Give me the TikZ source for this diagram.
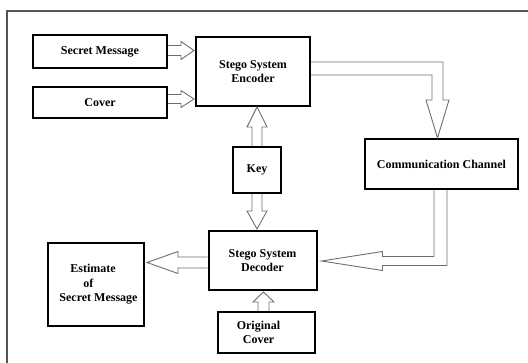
\documentclass[tikz,border=0pt]{standalone}
\usepackage{fontspec}
\setmainfont{Liberation Serif}
\usetikzlibrary{calc}
\definecolor{arrgray}{HTML}{6E6E6E}
\definecolor{frgray}{HTML}{555555}
\tikzset{
  blk/.style={draw=black, line width=2pt, fill=white, inner sep=0pt, align=center,
    font=\bfseries\fontsize{12}{14.5}\selectfont},
  arrowline/.style={draw=arrgray, line width=0.9pt, line join=miter},
  frame/.style={draw=frgray, line width=1.2pt}
}
% straight block arrow from #1 to #2: shaft half width #3, head half width #4, head length #5
\newcommand{\blockarr}[5]{%
  \coordinate (bac) at ($(#2)!#5!(#1)$);
  \draw[arrowline] ($(#1)!#3!90:(#2)$) -- ($(bac)!#3!90:(#2)$) -- ($(bac)!#4!90:(#2)$)
    -- (#2) -- ($(bac)!#4!-90:(#2)$) -- ($(bac)!#3!-90:(#2)$) -- ($(#1)!#3!-90:(#2)$);
}
\begin{document}
\begin{tikzpicture}[x=1pt,y=-1pt]
\useasboundingbox (0,0) rectangle (528,363);
\coordinate (frTR) at (528,11);
\coordinate (frTL) at (7,11);
\coordinate (frBL) at (7,363);
\draw[frame] (frTR) -- (frTL) -- (frBL);

\node[blk, minimum width=134pt, minimum height=33pt] (sm) at (100,51.5) {Secret Message};
\node[blk, minimum width=134pt, minimum height=31pt] (cov) at (100,102.5) {Cover};
\node[blk, minimum width=114pt, minimum height=69pt] (enc) at (253,71.5) {Stego System\\Encoder};
\node[blk, minimum width=48pt, minimum height=46pt] (key) at (257,170) {Key};
\node[blk, minimum width=153pt, minimum height=50pt] (comm) at (441.5,164) {Communication Channel};
\node[blk, minimum width=108pt, minimum height=59pt] (dec) at (262.5,260.5) {Stego System\\Decoder};
\node[blk, minimum width=96pt, minimum height=83pt, align=left] (est) at (96,284.5)
  {\hspace*{16pt}Estimate\\\hspace*{29pt}of\\\hspace*{5pt}Secret Message};
\node[blk, minimum width=97pt, minimum height=41pt] (orig) at (266.5,332.5)
  {Original\hspace*{16pt}\\Cover\hspace*{16pt}};

% inputs to encoder
\coordinate (a1s) at ($(sm.east)+(0,-1)$);
\coordinate (a1e) at ($(enc.west |- a1s)+(-1,0)$);
\blockarr{a1s}{a1e}{5pt}{9pt}{13pt}
\coordinate (a2s) at ($(cov.east)+(0,-3.5)$);
\coordinate (a2e) at ($(enc.west |- a2s)+(-1,0)$);
\blockarr{a2s}{a2e}{4.5pt}{8.5pt}{13pt}

% key arrows
\coordinate (k1e) at (key.north |- enc.south);
\blockarr{key.north}{k1e}{5pt}{10pt}{20pt}
\coordinate (k2e) at ($(key.south |- dec.north)+(0,-1)$);
\blockarr{key.south}{k2e}{5pt}{10pt}{18pt}

% decoder to estimate
\coordinate (d1s) at ($(dec.west)+(0,2)$);
\coordinate (d1e) at ($(est.east |- d1s)+(2,0)$);
\blockarr{d1s}{d1e}{5.5pt}{11pt}{31pt}

% original cover to decoder
\coordinate (o1s) at ($(orig.north)+(-3,0)$);
\coordinate (o1e) at ($(o1s |- dec.south)+(0,1)$);
\blockarr{o1s}{o1e}{5.5pt}{10.5pt}{10pt}

% encoder to channel (bent)
\coordinate (ee) at ($(enc.east)+(0,-3)$);
\coordinate (et) at ($(comm.north)+(-4,0)$);
\draw[arrowline] ($(ee)+(0,-6.5)$) -- ($(et |- ee)+(5.5,-6.5)$) -- ($(et)+(5.5,-38)$)
  -- ($(et)+(11.5,-38)$) -- (et) -- ($(et)+(-11.5,-38)$) -- ($(et)+(-5.5,-38)$)
  -- ($(et |- ee)+(-5.5,6.5)$) -- ($(ee)+(0,6.5)$);

% channel to decoder (bent)
\coordinate (cs) at ($(comm.south)+(-1,0)$);
\coordinate (ct) at ($(dec.east)+(4,0.5)$);
\draw[arrowline] ($(cs)+(-6.5,0)$) -- ($(cs |- ct)+(-6.5,-4.5)$) -- ($(ct)+(61,-4.5)$)
  -- ($(ct)+(61,-9.5)$) -- (ct) -- ($(ct)+(61,9.5)$) -- ($(ct)+(61,4.5)$)
  -- ($(cs |- ct)+(6.5,4.5)$) -- ($(cs)+(6.5,0)$);
\end{tikzpicture}
\end{document}
